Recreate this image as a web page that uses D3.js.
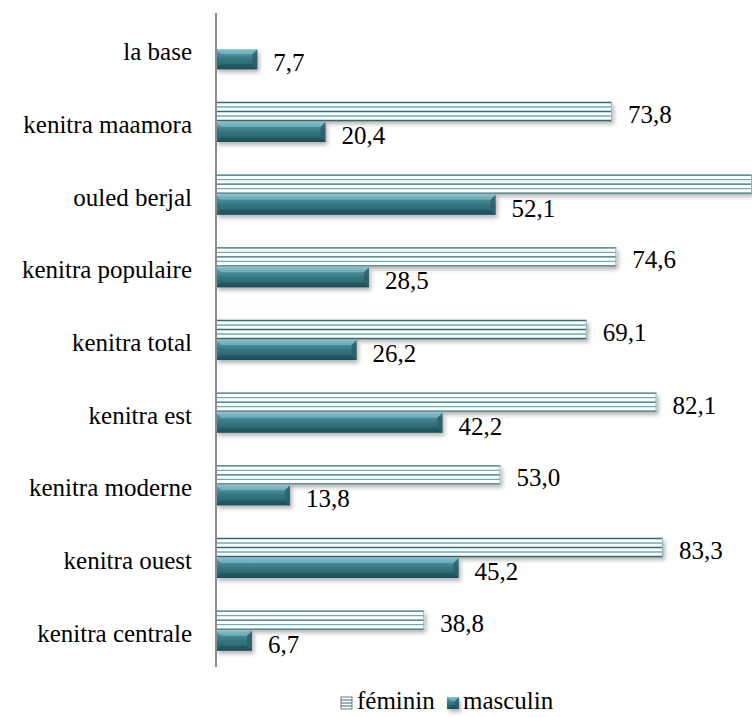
<!DOCTYPE html>
<html><head><meta charset="utf-8">
<script src="https://cdn.jsdelivr.net/npm/d3@7"></script>
<style>body{margin:0;background:#fff}svg{display:block}text{font-family:"Liberation Serif","Times New Roman",Times,"Nimbus Roman","Noto Serif","DejaVu Serif",serif;}</style>
</head><body>
<script>
const categories = ["la base","kenitra maamora","ouled berjal","kenitra populaire","kenitra total","kenitra est","kenitra moderne","kenitra ouest","kenitra centrale"];
const feminin = [null, 73.8, 100.0, 74.6, 69.1, 82.1, 53.0, 83.3, 38.8];
const masculin = [7.7, 20.4, 52.1, 28.5, 26.2, 42.2, 13.8, 45.2, 6.7];
const seriesNames = ["féminin","masculin"];

const W = 752, H = 717;
const svg = d3.select("body").append("svg").attr("width", W).attr("height", H);
const defs = svg.append("defs");
const FS = 25;

const f = defs.append("filter").attr("id","sh").attr("x","-10%").attr("y","-30%").attr("width","130%").attr("height","190%");
f.append("feDropShadow").attr("dx",2).attr("dy",3).attr("stdDeviation",2).attr("flood-color","#000").attr("flood-opacity",0.3);

const g = defs.append("linearGradient").attr("id","mg").attr("x1",0).attr("y1",0).attr("x2",0).attr("y2",1);
[[0,"#7cb8c6"],[0.18,"#4f93a2"],[0.5,"#35767f"],[0.85,"#2b6671"],[1,"#1f5360"]].forEach(([o,c])=>g.append("stop").attr("offset",o).attr("stop-color",c));

const x = d3.scaleLinear().domain([0,100]).range([216, 752.6]);
const y = d3.scaleBand().domain(categories).range([13, 667]).padding(0);
const bh = 19;

// category labels
svg.append("g").selectAll("text").data(categories).join("text")
  .attr("x", 192).attr("y", d => y(d) + y.bandwidth()/2 + 11)
  .attr("text-anchor","end").attr("font-size",FS).attr("fill","#000")
  .text(d => d);

function stripedBar(sel, x0, x1, top, h) {
  sel.append("rect").attr("x",x0).attr("y",top).attr("width",x1-x0).attr("height",h)
    .attr("fill","#fff").attr("filter","url(#sh)");
  const n = 5;
  for (let i=0;i<n;i++){
    const yy = top + 0.5 + i*(h-1)/(n-1);
    sel.append("line").attr("x1",x0).attr("x2",x1).attr("y1",yy).attr("y2",yy)
      .attr("stroke", i%2===0 ? "#2f6a77" : "#6eaab8").attr("stroke-width",1.4);
  }
  sel.append("line").attr("x1",x1-0.5).attr("x2",x1-0.5).attr("y1",top).attr("y2",top+h).attr("stroke","#8fb4bd").attr("stroke-width",1);
}
function bevelBar(sel, x0, x1, top, h) {
  sel.append("rect").attr("x",x0).attr("y",top).attr("width",x1-x0).attr("height",h)
    .attr("fill","url(#mg)").attr("filter","url(#sh)");
  const b = Math.min(5, (x1-x0)/3);
  sel.append("path").attr("d",`M${x1},${top}L${x1-b},${top+b}L${x1-b},${top+h-b}L${x1},${top+h}Z`).attr("fill","#2a5f6a").attr("opacity",0.8);
  sel.append("path").attr("d",`M${x0},${top}L${x1},${top}L${x1-b},${top+b}L${x0+b},${top+b}Z`).attr("fill","#8cc6d2").attr("opacity",0.55);
  sel.append("path").attr("d",`M${x0},${top+h}L${x1},${top+h}L${x1-b},${top+h-b}L${x0+b},${top+h-b}Z`).attr("fill","#1b4752").attr("opacity",0.5);
}

const bars = svg.append("g");
categories.forEach((c,i) => {
  const cy = y(c) + y.bandwidth()/2;
  const gg = bars.append("g");
  if (feminin[i] != null) {
    const x1 = Math.min(x(feminin[i]), W);
    stripedBar(gg, x(0), x1, cy-20, bh);
  }
  bevelBar(gg, x(0), x(masculin[i]), cy, bh+1);
});

// value labels
const fmt = v => d3.format(".1f")(v).replace(".", ",");
categories.forEach((c,i) => {
  const cy = y(c) + y.bandwidth()/2;
  if (feminin[i] != null && x(feminin[i]) + 60 < W) {
    svg.append("text").attr("x", x(feminin[i]) + 16).attr("y", cy + 1)
      .attr("font-size",FS).text(fmt(feminin[i]));
  }
  svg.append("text").attr("x", x(masculin[i]) + 16).attr("y", cy + 22)
    .attr("font-size",FS).text(fmt(masculin[i]));
});

// axis line
svg.append("line").attr("x1",216).attr("x2",216).attr("y1",13).attr("y2",667).attr("stroke","#8c8c8c").attr("stroke-width",2);

// legend
const lg = svg.append("g");
const lx = [341, 447];
seriesNames.forEach((s,i) => {
  const gx = lg.append("g");
  if (i===0) {
    gx.append("rect").attr("x",lx[i]).attr("y",697).attr("width",11).attr("height",12).attr("fill","#fff").attr("stroke","#555").attr("stroke-width",0.8);
    [700,703,706].forEach(yy=>gx.append("line").attr("x1",lx[i]).attr("x2",lx[i]+11).attr("y1",yy).attr("y2",yy).attr("stroke","#2f6a77").attr("stroke-width",1));
  } else {
    bevelBar(gx, lx[i], lx[i]+12, 697, 12);
  }
  lg.append("text").attr("x", lx[i]+16).attr("y", 709).attr("font-size",FS).text(s);
});
</script>
</body></html>
